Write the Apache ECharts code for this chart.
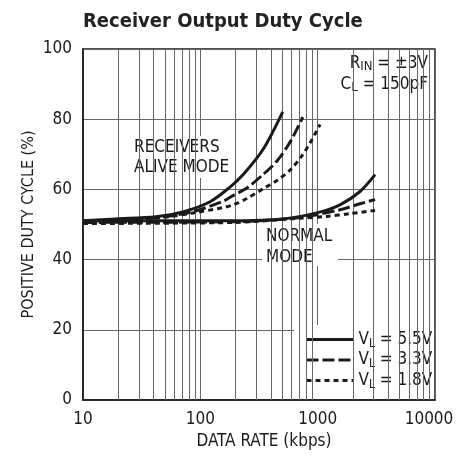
<!DOCTYPE html>
<html>
<head>
<meta charset="utf-8">
<script src="https://cdn.jsdelivr.net/npm/echarts@6/dist/echarts.min.js"></script>
<style>html,body{margin:0;padding:0;background:#fff}#c{width:469px;height:457px}</style>
</head>
<body>
<div id="c"></div>
<script>
// ---- data ----
var xTicks = [10, 100, 1000, 10000];
var yTicks = [0, 20, 40, 60, 80, 100];
var minorGridX = [20, 30, 40, 50, 60, 70, 80, 90, 200, 300, 400, 500, 600, 700, 800, 900, 2000, 3000, 4000, 5000, 6000, 7000, 8000, 9000];
var seriesNames = ['V_L = 5.5V', 'V_L = 3.3V', 'V_L = 1.8V'];

var alive55X = [10, 19, 42, 71, 120, 178, 233, 344, 504];
var alive55Y = [51.1, 51.6, 52.2, 53.6, 56.4, 60.6, 64.3, 71.5, 82.1];
var alive33X = [10, 20, 51, 87, 156, 191, 249, 344, 448, 582, 747];
var alive33Y = [50.7, 51.1, 52.3, 53.7, 56.6, 58.3, 60.4, 64.3, 68.0, 73.5, 80.6];
var alive18X = [10, 20, 51, 87, 156, 191, 249, 344, 448, 582, 731, 861, 1048];
var alive18Y = [50.4, 50.8, 52.1, 53.3, 54.8, 55.6, 57.4, 60.2, 62.5, 65.5, 69.5, 73.2, 78.5];

var normal55X = [10, 99, 191, 511, 982, 1549, 2296, 3085];
var normal55Y = [51.0, 51.1, 51.1, 51.6, 53.3, 55.6, 59.4, 64.2];
var normal33X = [10, 200, 621, 982, 1549, 2296, 3085];
var normal33Y = [50.6, 50.8, 51.8, 52.8, 54.2, 55.9, 57.1];
var normal18X = [10, 200, 708, 1197, 1888, 3085];
var normal18Y = [50.3, 50.6, 51.8, 52.3, 53.1, 54.0];

function zip(xs, ys) { return xs.map(function (x, i) { return [x, ys[i]]; }); }

var FONT = '"Liberation Sans Narrow", "Arial Narrow", "DejaVu Sans Condensed", sans-serif';
var INK = '#1a1a1a';
var dashStyles = ['solid', [12, 4], [5, 4]];

function curve(name, data, k) {
  return {
    name: name, type: 'line', data: data, smooth: 0.3, symbol: 'none', z: 5,
    silent: true, animation: false,
    lineStyle: { color: INK, width: 3, type: dashStyles[k], cap: 'butt' },
    itemStyle: { color: INK }
  };
}

var series = [
  curve(seriesNames[0], zip(alive55X, alive55Y), 0),
  curve(seriesNames[1], zip(alive33X, alive33Y), 1),
  curve(seriesNames[2], zip(alive18X, alive18Y), 2),
  curve(seriesNames[0], zip(normal55X, normal55Y), 0),
  curve(seriesNames[1], zip(normal33X, normal33Y), 1),
  curve(seriesNames[2], zip(normal18X, normal18Y), 2),
  {
    name: 'grid-minor', type: 'line', data: [], z: 1, silent: true, animation: false,
    markLine: {
      silent: true, symbol: 'none', animation: false,
      label: { show: false },
      lineStyle: { color: '#666', width: 1, type: 'solid' },
      data: minorGridX.map(function (v) { return { xAxis: v }; })
    }
  }
];

function subRich(name) {
  var m = name.match(/^(\w)_(\w+)(.*)$/);
  return '{a|' + m[1] + '}{s|' + m[2] + '}{a|' + m[3] + '}';
}

var maxX = xTicks[xTicks.length - 1];
var chart = echarts.init(document.getElementById('c'), null, { renderer: 'canvas' });
chart.setOption({
  animation: false,
  backgroundColor: '#fff',
  title: {
    text: 'Receiver Output Duty Cycle', left: 78, top: 7,
    textStyle: { fontFamily: FONT, fontWeight: 'bold', fontSize: 20, color: '#222' }
  },
  grid: { left: 83, right: 34, top: 49, bottom: 57, show: true, borderColor: INK, borderWidth: 1.5, containLabel: false },
  xAxis: {
    type: 'log', logBase: 10, min: xTicks[0], max: maxX,
    name: 'DATA RATE (kbps)', nameLocation: 'middle', nameGap: 22,
    nameTextStyle: { fontFamily: FONT, fontSize: 17, color: INK, padding: [0, 0, 0, 10] },
    axisLine: { show: true, lineStyle: { color: INK, width: 1.5 } },
    axisTick: { show: false },
    axisLabel: {
      fontFamily: FONT, fontSize: 17, color: INK, margin: 11,
      formatter: function (v) { var s = String(Math.round(v)); return Math.round(v) === maxX ? '{r|' + s + '}' : s; },
      rich: { r: { fontFamily: FONT, fontSize: 17, color: INK, padding: [0, 12, 0, 0] } }
    },
    splitLine: { show: true, lineStyle: { color: '#666', width: 1 } },
    minorTick: { show: false }, minorSplitLine: { show: false }
  },
  yAxis: {
    type: 'value', min: yTicks[0], max: yTicks[yTicks.length - 1], interval: 20,
    name: 'POSITIVE DUTY CYCLE (%)', nameLocation: 'middle', nameGap: 46, nameMoveOverlap: false,
    nameTextStyle: { fontFamily: FONT, fontSize: 16, color: INK },
    axisLine: { show: true, lineStyle: { color: INK, width: 1.5 } },
    axisTick: { show: false },
    axisLabel: { fontFamily: FONT, fontSize: 17, color: INK, margin: 11 },
    splitLine: { show: true, lineStyle: { color: '#666', width: 1 } }
  },
  legend: {
    data: seriesNames, orient: 'vertical', left: 298, top: 331,
    padding: [0, 4, 0, 7], itemGap: 2,
    itemWidth: 47, itemHeight: 8, selectedMode: false,
    itemStyle: { opacity: 0 },
    lineStyle: { width: 3 },
    formatter: subRich,
    textStyle: {
      fontFamily: FONT, fontSize: 17, color: INK, padding: [0, 0, 0, 0],
      rich: {
        a: { fontFamily: FONT, fontSize: 17, color: INK, lineHeight: 20 },
        s: { fontFamily: FONT, fontSize: 12, color: INK, padding: [8, 0, 0, 0] }
      }
    }
  },
  graphic: [
    { type: 'rect', z: 3, silent: true, shape: { x: 343, y: 50, width: 91, height: 50 }, style: { fill: '#fff' } },
    { type: 'rect', z: 3, silent: true, shape: { x: 131, y: 136, width: 100, height: 42 }, style: { fill: '#fff' } },
    { type: 'rect', z: 3, silent: true, shape: { x: 262, y: 224, width: 76, height: 42 }, style: { fill: '#fff' } },
    { type: 'rect', z: 3, silent: true, shape: { x: 294, y: 325, width: 140, height: 74 }, style: { fill: '#fff' } },
    {
      type: 'text', z: 4, x: 428, y: 53,
      style: {
        text: '{a|R}{s|IN}{a| = ±3V}\n{a|C}{s|L}{a| = 150pF}',
        align: 'right', verticalAlign: 'top',
        rich: {
          a: { fontFamily: FONT, fontSize: 17, fill: INK, lineHeight: 21 },
          s: { fontFamily: FONT, fontSize: 13, fill: INK, padding: [7, 0, 0, 0] }
        }
      }
    },
    {
      type: 'text', z: 4, x: 134, y: 138,
      style: { text: 'RECEIVERS\nALIVE MODE', fontFamily: FONT, fontSize: 17, fill: INK, lineHeight: 20 }
    },
    {
      type: 'text', z: 4, x: 266, y: 226,
      style: { text: 'NORMAL\nMODE', fontFamily: FONT, fontSize: 17, fill: INK, lineHeight: 21 }
    }
  ],
  series: series
});
</script>
</body>
</html>
